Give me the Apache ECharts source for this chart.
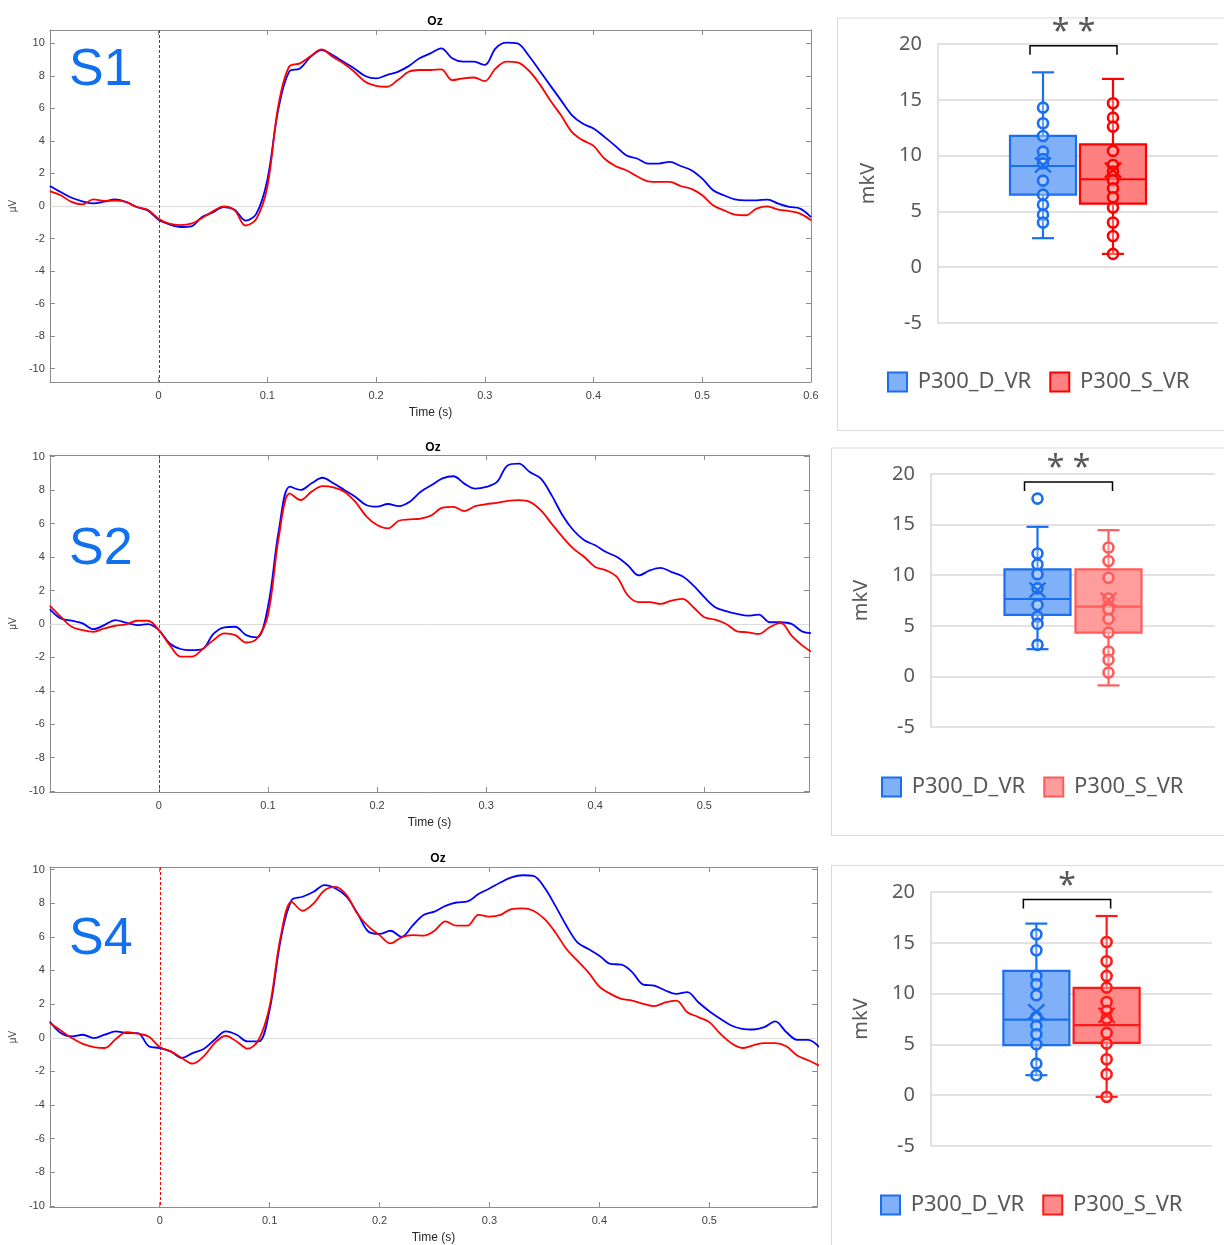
<!DOCTYPE html>
<html>
<head>
<meta charset="utf-8">
<title>P300 Oz</title>
<script src="https://cdn.jsdelivr.net/npm/echarts@6/dist/echarts.min.js"></script>
<style>
  html, body { margin: 0; padding: 0; background: #fff; }
  #chart { width: 1224px; height: 1245px; }
</style>
</head>
<body>
<div id="chart"></div>
<script>
// time axis (s)
const times = [
  -0.1, -0.09, -0.08, -0.07, -0.06, -0.05, -0.04, -0.03, -0.02, -0.01,
  0, 0.01, 0.02, 0.03, 0.04, 0.05, 0.06, 0.07, 0.08, 0.09,
  0.1, 0.11, 0.12, 0.13, 0.14, 0.15, 0.16, 0.17, 0.18, 0.19,
  0.2, 0.21, 0.22, 0.23, 0.24, 0.25, 0.26, 0.27, 0.28, 0.29,
  0.3, 0.31, 0.32, 0.33, 0.34, 0.35, 0.36, 0.37, 0.38, 0.39,
  0.4, 0.41, 0.42, 0.43, 0.44, 0.45, 0.46, 0.47, 0.48, 0.49,
  0.5, 0.51, 0.52, 0.53, 0.54, 0.55, 0.56, 0.57, 0.58, 0.59, 0.6
]

// ERP curves, blue = D, red = S
const s1D = [
  1.23, 0.86, 0.51, 0.29, 0.16, 0.27, 0.41, 0.25, -0.06, -0.27,
  -0.84, -1.13, -1.29, -1.25, -0.68, -0.39, -0.06, -0.23, -0.9, -0.47,
  1.58, 5.89, 8.25, 8.46, 9.18, 9.59, 9.28, 8.87, 8.46, 7.99,
  7.84, 8.05, 8.25, 8.6, 9.08, 9.38, 9.69, 9.08, 8.87, 8.87,
  8.67, 9.69, 10.04, 10.0, 9.28, 8.36, 7.43, 6.51, 5.59, 5.07,
  4.76, 4.25, 3.7, 3.12, 2.92, 2.61, 2.61, 2.71, 2.46, 2.2,
  1.68, 0.97, 0.66, 0.41, 0.35, 0.35, 0.39, 0.14, -0.06, -0.16, -0.68
]
const s1S = [
  0.92, 0.66, 0.25, 0.1, 0.41, 0.31, 0.33, 0.25, -0.06, -0.23,
  -0.78, -1.09, -1.17, -1.09, -0.74, -0.33, -0.02, -0.27, -1.2, -0.78,
  1.17, 6.1, 8.56, 8.77, 9.22, 9.63, 9.18, 8.77, 8.25, 7.64,
  7.39, 7.33, 7.74, 8.25, 8.36, 8.36, 8.4, 7.74, 7.84, 7.9,
  7.68, 8.46, 8.87, 8.83, 8.36, 7.54, 6.51, 5.59, 4.56, 4.05,
  3.7, 2.92, 2.46, 2.2, 1.83, 1.52, 1.48, 1.48, 1.23, 1.05,
  0.66, 0.04, -0.27, -0.53, -0.57, -0.16, -0.02, -0.23, -0.31, -0.47, -0.88
]
const s2D = [
  0.89, 0.33, 0.19, 0.03, -0.31, -0.07, 0.23, 0.07, -0.07, -0.01,
  -0.37, -1.17, -1.5, -1.57, -1.5, -0.6, -0.21, -0.17, -0.67, -0.81,
  1.03, 5.61, 8.21, 8.01, 8.41, 8.74, 8.41, 8.01, 7.61, 7.11,
  7.01, 7.17, 7.04, 7.3, 7.9, 8.3, 8.7, 8.83, 8.39, 8.09,
  8.19, 8.49, 9.49, 9.58, 9.08, 8.7, 7.7, 6.5, 5.6, 5.0,
  4.7, 4.3, 4.0, 3.5, 2.9, 3.2, 3.35, 3.1, 2.85, 2.3,
  1.6, 1.0, 0.76, 0.6, 0.5, 0.56, 0.1, 0.1, 0.0, -0.46, -0.55
]
const s2S = [
  1.09, 0.43, -0.17, -0.37, -0.47, -0.27, -0.11, -0.03, 0.19, 0.19,
  -0.37, -1.27, -1.96, -1.96, -1.52, -0.97, -0.57, -0.67, -1.11, -0.87,
  0.53, 5.21, 7.81, 7.41, 7.91, 8.24, 8.17, 7.91, 7.31, 6.45,
  5.91, 5.71, 6.17, 6.25, 6.3, 6.5, 6.96, 7.0, 6.75, 7.04,
  7.16, 7.24, 7.36, 7.4, 7.3, 6.8, 6.0, 5.2, 4.5, 4.0,
  3.4, 3.2, 2.8, 1.7, 1.3, 1.3, 1.2, 1.4, 1.5, 1.0,
  0.4, 0.26, 0.0, -0.44, -0.5, -0.6, -0.2, 0.06, -0.7, -1.3, -1.74
]
const s4D = [
  0.97, 0.28, 0.08, 0.18, -0.02, 0.18, 0.38, 0.28, 0.28, -0.5,
  -0.61, -0.81, -1.2, -0.91, -0.67, -0.12, 0.38, 0.18, -0.22, -0.22,
  1.66, 5.81, 8.18, 8.38, 8.68, 9.07, 8.87, 8.38, 7.39, 6.3,
  6.17, 6.36, 6.0, 6.66, 7.3, 7.5, 7.84, 8.04, 8.1, 8.54,
  8.87, 9.23, 9.53, 9.66, 9.62, 8.93, 7.84, 6.66, 5.67, 5.28,
  4.88, 4.39, 4.35, 3.89, 3.16, 3.1, 2.81, 2.61, 2.71, 2.11,
  1.58, 1.13, 0.73, 0.53, 0.49, 0.63, 0.97, 0.34, -0.12, -0.12, -0.55
]
const s4S = [
  0.87, 0.43, -0.02, -0.36, -0.55, -0.61, -0.08, 0.34, 0.24, 0.08,
  -0.55, -0.81, -1.2, -1.54, -1.11, -0.32, 0.12, -0.22, -0.65, -0.12,
  1.86, 6.0, 8.08, 7.55, 7.98, 8.77, 8.97, 8.48, 7.35, 6.6,
  6.1, 5.61, 5.97, 6.1, 6.07, 6.36, 6.92, 6.66, 6.66, 7.3,
  7.2, 7.3, 7.65, 7.69, 7.55, 7.06, 6.26, 5.28, 4.58, 3.89,
  3.04, 2.61, 2.31, 2.21, 2.02, 1.88, 2.11, 2.21, 1.52, 1.23,
  0.93, 0.24, -0.32, -0.61, -0.45, -0.32, -0.32, -0.51, -1.05, -1.34, -1.66
]

const panelNames = ['S1', 'S2', 'S4']
const groupNames = ['P300_D_VR', 'P300_S_VR']
const boxCategories = ['', 'P300_D_VR', 'P300_S_VR', '']

// box stats: [min, q1, median, q3, max]
const boxD = [
  [2.6, 6.5, 9.07, 11.76, 17.46],
  [2.69, 6.08, 7.65, 10.57, 14.78],
  [1.97, 4.92, 7.44, 12.23, 16.89]
]
const boxS = [
  [1.19, 5.7, 7.88, 11.01, 16.87],
  [-0.89, 4.33, 6.9, 10.57, 14.45],
  [-0.16, 5.15, 6.89, 10.56, 17.64]
]
const meanD = [9.16, 8.54, 8.2]
const meanS = [8.7, 7.55, 7.87]
const pointsD = [
  [14.3, 12.9, 11.76, 10.36, 9.7, 9.3, 7.76, 6.5, 5.6, 4.7, 4.0],
  [17.57, 12.15, 11.07, 10.1, 8.7, 7.06, 5.9, 5.19, 3.12],
  [15.84, 14.26, 11.74, 10.92, 9.84, 7.7, 6.82, 6.0, 5.02, 3.11, 1.97]
]
const pointsS = [
  [14.69, 13.4, 12.6, 10.42, 9.16, 8.57, 7.8, 7.07, 6.27, 5.34, 4.0, 2.8, 1.19],
  [12.74, 11.4, 9.75, 7.7, 6.63, 5.68, 4.33, 2.46, 1.64, 0.39],
  [15.08, 13.18, 11.74, 10.59, 9.18, 8.3, 7.54, 6.13, 5.08, 3.54, 2.07, -0.16]
]
const sigLabels = ['**', '**', '*']
const bracketY = [19.85, 19.2, 19.25]

const xTicksFull = [0, 0.1, 0.2, 0.3, 0.4, 0.5, 0.6]
const xTicksShort = [0, 0.1, 0.2, 0.3, 0.4, 0.5]
const yTicks = [-10, -8, -6, -4, -2, 0, 2, 4, 6, 8, 10]

const FONT_M = "'Liberation Sans', Arial, sans-serif"
const FONT_X = "'Noto Sans', sans-serif"
const AX = '#8c8c8c'

const curves = [[s1D, s1S], [s2D, s2S], [s4D, s4S]]

// layout of the three ERP panels (tag = ink top-left of the S label)
const linePanels = [
  { grid: { left: 48, top: 30, width: 763, height: 352 }, xMax: 0.6, yMin: -10.82, yMax: 10.82, xTicks: xTicksFull, oz: [430, 11], tag: [69, 48] },
  { grid: { left: 47, top: 455, width: 762, height: 337 }, xMax: 0.596, yMin: -10.05, yMax: 10.1, xTicks: xTicksShort, oz: [428, 437], tag: [69, 527] },
  { grid: { left: 49, top: 867, width: 768, height: 341 }, xMax: 0.598, yMin: -10.06, yMax: 10.15, xTicks: xTicksShort, oz: [433, 848], tag: [69, 917] }
]

// layout of the three box panels
const boxPanels = [
  { grid: { left: 938, top: 44, width: 280, height: 279 }, frame: [835, 15.5, 420, 412.5], legend: [887, 371],
    colors: [['#1a6ff0', '#80b0f8'], ['#ff0000', '#ff8080']] },
  { grid: { left: 931, top: 474, width: 284, height: 253 }, frame: [829, 445.5, 420, 387.5], legend: [881, 776],
    colors: [['#1a6ff0', '#80b0f8'], ['#ff5b5b', '#ff9c9c']] },
  { grid: { left: 931, top: 892, width: 281, height: 254 }, frame: [829, 863, 420, 420], legend: [880, 1194],
    colors: [['#1a6ff0', '#80b0f8'], ['#ff1a1a', '#ff8a8a']] }
]

const BOX_W = 66
const CAP_W = 22
const X_PATH = 'path://M0,0L10,10M10,0L0,10'

const makeBoxRenderer = (stroke, fill) => (params, api) => {
  const x = api.value(0)
  const lo = api.coord([x, api.value(1)])
  const q1 = api.coord([x, api.value(2)])
  const med = api.coord([x, api.value(3)])
  const q3 = api.coord([x, api.value(4)])
  const hi = api.coord([x, api.value(5)])
  const cx = lo[0]
  const hw = BOX_W / 2
  const cw = CAP_W / 2
  const ls = { stroke, lineWidth: 2.2 }
  return {
    type: 'group',
    children: [
      { type: 'line', shape: { x1: cx, y1: q3[1], x2: cx, y2: hi[1] }, style: ls },
      { type: 'line', shape: { x1: cx, y1: q1[1], x2: cx, y2: lo[1] }, style: ls },
      { type: 'line', shape: { x1: cx - cw, y1: hi[1], x2: cx + cw, y2: hi[1] }, style: ls },
      { type: 'line', shape: { x1: cx - cw, y1: lo[1], x2: cx + cw, y2: lo[1] }, style: ls },
      { type: 'rect', shape: { x: cx - hw, y: q3[1], width: BOX_W, height: q1[1] - q3[1] }, style: { fill, stroke, lineWidth: 2.2 } },
      { type: 'line', shape: { x1: cx - hw, y1: med[1], x2: cx + hw, y2: med[1] }, style: ls }
    ]
  }
}

const makeBracketRenderer = (sig) => (params, api) => {
  const a = api.coord([1, api.value(0)])
  const b = api.coord([2, api.value(0)])
  const x1 = a[0] - 13
  const x2 = b[0] + 4
  const y = a[1]
  return {
    type: 'group',
    children: [
      { type: 'polyline', shape: { points: [[x1, y + 9], [x1, y], [x2, y], [x2, y + 9]] }, style: { stroke: '#000', lineWidth: 1.5, fill: null } },
      { type: 'text', x: (x1 + x2) / 2, y: y - 13, style: { text: sig.split('').join(' '), fill: '#595959', font: `32px ${FONT_X}`, textAlign: 'center', textVerticalAlign: 'middle' } }
    ]
  }
}

// stimulus onset marker: dashed vertical line at t = 0, drawn through the axes
const makeOnsetRenderer = () => (params, api) => {
  const top = api.coord([api.value(0), api.value(1)])
  const bottom = api.coord([api.value(0), api.value(2)])
  return {
    type: 'line',
    shape: { x1: Math.round(top[0]) + 0.5, y1: top[1], x2: Math.round(top[0]) + 0.5, y2: bottom[1] },
    style: { stroke: '#ff0000', lineWidth: 1, lineDash: [3, 2] }
  }
}

const grid = []
const xAxis = []
const yAxis = []
const series = []
const title = []
const legend = []
const graphic = []

linePanels.forEach((cfg, p) => {
  grid.push(cfg.grid)
  const tickStyle = { color: AX, width: 1 }
  xAxis.push({
    type: 'value', gridIndex: p, position: 'bottom', min: -0.1, max: cfg.xMax,
    name: 'Time (s)', nameLocation: 'middle', nameGap: 25,
    nameTextStyle: { color: '#262626', fontSize: 12, fontFamily: FONT_M },
    axisLine: { show: true, onZero: false, lineStyle: { color: AX, width: 1 } },
    axisTick: { show: true, inside: true, length: 5, customValues: cfg.xTicks, lineStyle: tickStyle },
    axisLabel: { customValues: cfg.xTicks, color: '#404040', fontSize: 11, margin: 8, fontFamily: FONT_M, formatter: v => String(+(+v).toFixed(2)) },
    splitLine: { show: false }
  })
  xAxis.push({
    type: 'value', gridIndex: p, position: 'top', min: -0.1, max: cfg.xMax,
    axisLine: { show: true, onZero: false, lineStyle: { color: AX, width: 1 } },
    axisTick: { show: true, inside: true, length: 5, customValues: cfg.xTicks, lineStyle: tickStyle },
    axisLabel: { show: false },
    splitLine: { show: false }
  })
  yAxis.push({
    type: 'value', gridIndex: p, position: 'left', min: cfg.yMin, max: cfg.yMax,
    name: '\u03bcV', nameLocation: 'middle', nameGap: 30, nameRotate: 90,
    nameTextStyle: { color: '#404040', fontSize: 10, fontFamily: FONT_M },
    axisLine: { show: true, onZero: false, lineStyle: { color: AX, width: 1 } },
    axisTick: { show: true, inside: true, length: 5, customValues: yTicks, lineStyle: tickStyle },
    axisLabel: { customValues: yTicks, color: '#404040', fontSize: 11, margin: 5, fontFamily: FONT_M },
    splitLine: { show: false }
  })
  yAxis.push({
    type: 'value', gridIndex: p, position: 'right', min: cfg.yMin, max: cfg.yMax,
    axisLine: { show: true, onZero: false, lineStyle: { color: AX, width: 1 } },
    axisTick: { show: true, inside: true, length: 5, customValues: yTicks, lineStyle: tickStyle },
    axisLabel: { show: false },
    splitLine: { show: false }
  })

  const [dVals, sVals] = curves[p]
  series.push({
    type: 'custom', xAxisIndex: 2 * p, yAxisIndex: 2 * p, z: 1, silent: true,
    data: [[0, cfg.yMax, cfg.yMin]],
    encode: { x: 0, y: [1, 2] },
    renderItem: makeOnsetRenderer()
  })
  series.push({
    type: 'line', xAxisIndex: 2 * p, yAxisIndex: 2 * p,
    data: times.map((t, i) => [t, dVals[i]]),
    showSymbol: false, smooth: 0.35, z: 3,
    lineStyle: { color: '#0000ff', width: 1.8 },
    markLine: {
      silent: true, symbol: 'none', label: { show: false }, z: 1,
      lineStyle: { color: '#dcdcdc', width: 1, type: 'solid' },
      data: [{ yAxis: 0 }]
    }
  })
  series.push({
    type: 'line', xAxisIndex: 2 * p, yAxisIndex: 2 * p,
    data: times.map((t, i) => [t, sVals[i]]),
    showSymbol: false, smooth: 0.35, z: 4,
    lineStyle: { color: '#ff0000', width: 1.8 }
  })

  title.push({
    text: 'Oz', left: cfg.oz[0], top: cfg.oz[1], textAlign: 'center',
    textStyle: { fontSize: 12, fontWeight: 'bold', color: '#000', fontFamily: FONT_M }
  })
  graphic.push({
    type: 'text', left: cfg.tag[0], top: cfg.tag[1] - 3,
    style: {
      text: panelNames[p], fill: '#1170f0', font: `52px ${FONT_M}`,
      shadowColor: 'rgba(0,0,0,0.3)', shadowBlur: 3, shadowOffsetX: 1, shadowOffsetY: 1
    }
  })
})

boxPanels.forEach((cfg, p) => {
  const gi = 3 + p
  const ai = 6 + p
  grid.push(cfg.grid)
  xAxis.push({
    type: 'category', gridIndex: gi, data: boxCategories,
    axisLine: { show: false }, axisTick: { show: false }, axisLabel: { show: false }, splitLine: { show: false }
  })
  yAxis.push({
    type: 'value', gridIndex: gi, min: -5, max: 20, interval: 5,
    name: 'mkV', nameLocation: 'middle', nameGap: 60, nameRotate: 90,
    nameTextStyle: { color: '#595959', fontSize: 20, fontFamily: FONT_X },
    axisLine: { show: true, lineStyle: { color: '#d9d9d9', width: 1.5 } },
    axisTick: { show: false },
    axisLabel: { color: '#595959', fontSize: 20, margin: 16, fontFamily: FONT_X },
    splitLine: { show: true, lineStyle: { color: '#d9d9d9', width: 1.5 } }
  })

  const boxes = [boxD[p], boxS[p]]
  const means = [meanD[p], meanS[p]]
  const pts = [pointsD[p], pointsS[p]]
  groupNames.forEach((name, g) => {
    const [stroke, fill] = cfg.colors[g]
    series.push({
      type: 'custom', name, xAxisIndex: ai, yAxisIndex: ai, z: 2,
      itemStyle: { color: fill },
      data: [[g + 1, ...boxes[g]]],
      encode: { x: 0, y: [1, 2, 3, 4, 5] },
      renderItem: makeBoxRenderer(stroke, fill)
    })
    series.push({
      type: 'scatter', name, xAxisIndex: ai, yAxisIndex: ai, z: 3,
      data: pts[g].map(v => [g + 1, v]),
      symbol: 'circle', symbolSize: 10,
      itemStyle: { color: 'rgba(255,255,255,0.35)', borderColor: stroke, borderWidth: 2.6, opacity: 1 }
    })
    series.push({
      type: 'scatter', name, xAxisIndex: ai, yAxisIndex: ai, z: 4,
      data: [[g + 1, means[g]]],
      symbol: X_PATH, symbolSize: [16, 15],
      itemStyle: { color: 'rgba(0,0,0,0)', borderColor: stroke, borderWidth: 2.4, opacity: 1 }
    })
  })
  series.push({
    type: 'custom', xAxisIndex: ai, yAxisIndex: ai, z: 5, silent: true,
    data: [[bracketY[p]]],
    encode: { y: 0 },
    renderItem: makeBracketRenderer(sigLabels[p])
  })

  legend.push({
    left: cfg.legend[0], top: cfg.legend[1], padding: 0, icon: 'rect', itemWidth: 19, itemHeight: 19, itemGap: 18,
    selectedMode: false,
    formatter: n => ' ' + n,
    textStyle: { color: '#595959', fontSize: 22, fontFamily: FONT_X },
    data: groupNames.map((n, g) => ({
      name: n,
      itemStyle: { color: cfg.colors[g][1], borderColor: cfg.colors[g][0], borderWidth: 2 }
    }))
  })
  graphic.push({
    type: 'rect', left: cfg.frame[0], top: cfg.frame[1], silent: true,
    shape: { width: cfg.frame[2], height: cfg.frame[3] },
    style: { fill: 'none', stroke: '#d9d9d9', lineWidth: 1 }
  })
})

const chart = echarts.init(document.getElementById('chart'))
chart.setOption({
  animation: false,
  backgroundColor: '#fff',
  title, legend, grid, xAxis, yAxis, series, graphic
})
</script>
</body>
</html>
